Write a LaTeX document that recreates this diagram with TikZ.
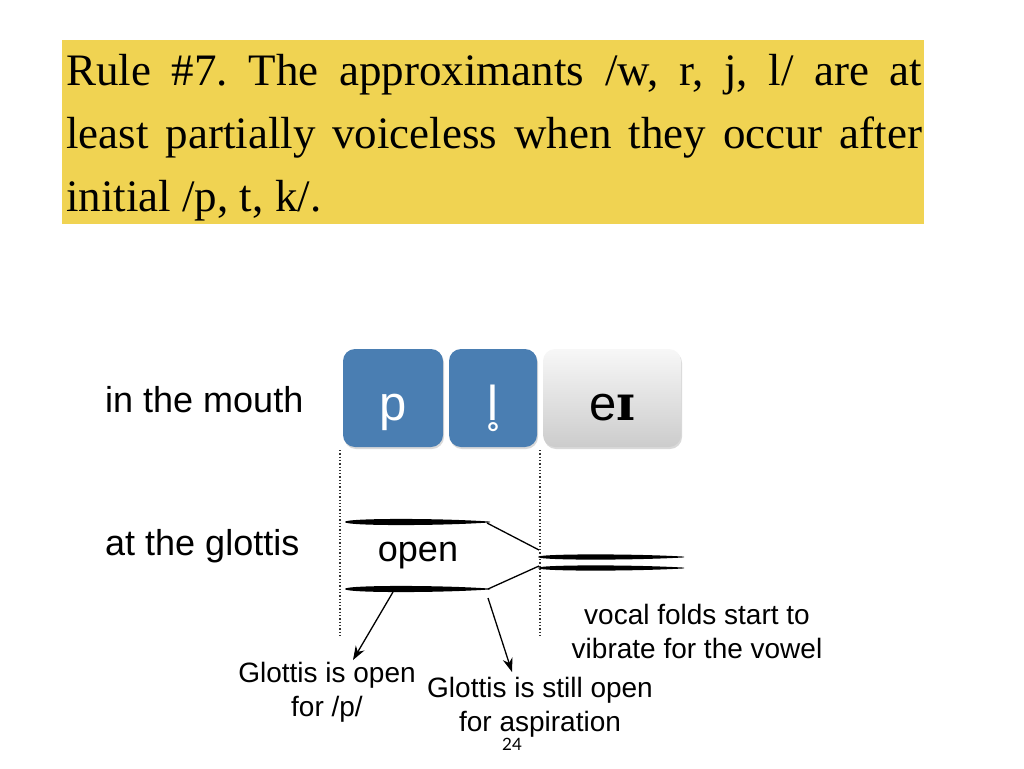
\documentclass[tikz,border=0pt]{standalone}
\usepackage{fontspec}
\setmainfont{Liberation Serif}
\setsansfont{Liberation Sans}
\newfontfamily\hel{Liberation Sans}
\newfontfamily\ipaserif{DejaVu Serif}
\newfontfamily\pagenumfont{Lato}
\usetikzlibrary{shadows,arrows.meta}
\definecolor{ruleyellow}{RGB}{240,211,82}
\definecolor{segblue}{RGB}{74,126,178}
\newcommand\brushstroke[4]{\fill (#1,#3) .. controls (#1-1,#3-#4) and (#2-50,#3-#4) .. (#2,#3-0.4) -- (#2,#3+0.4) .. controls (#2-50,#3+#4) and (#1-1,#3+#4) .. cycle;}
\tikzset{
  seg/.style={rounded corners=12pt, minimum height=98pt, inner sep=0pt, text=white, fill=segblue,
    font=\hel\fontsize{49}{49}\selectfont, text height=44pt, text depth=0pt,
    drop shadow={shadow xshift=1pt, shadow yshift=-2pt, opacity=0.3}},
  vowelseg/.style={seg, fill=none, top color=white!97!black, bottom color=white!80!black, text=black},
  bigl/.style={font=\hel\fontsize{36}{40}\selectfont, inner sep=0pt},
  smalll/.style={font=\hel\fontsize{28}{34}\selectfont, inner sep=0pt, align=center},
  conn/.style={line width=1.3pt},
  arr/.style={line width=1.3pt, -{Stealth[length=14pt,width=10pt]}},
  guide/.style={dotted, line width=1.3pt, black!80}
}
\begin{document}
\begin{tikzpicture}[x=1pt,y=-1pt]
\useasboundingbox (0,0) rectangle (1024,768);
% title
\fill[ruleyellow] (62,40) rectangle (924,224);
\node[anchor=base west, inner sep=0pt] (rule) at (66,85)
  {\parbox[t]{856pt}{\fontsize{45}{63}\selectfont\hyphenpenalty=10000\frenchspacing
   Rule \#7. The approximants /w, r, j, l/ are at\linebreak
   least partially voiceless when they occur after\linebreak
   initial /p, t, k/.}};
% segments
\node[seg, minimum width=100pt] (p) at (393,398) {p};
\node[seg, minimum width=88pt] (l) at (493,398) {l̥};
\node[vowelseg, minimum width=138pt] (ei) at (612,398) {e{\ipaserif\bfseries ɪ}};
% row labels
\node[bigl, anchor=base west] (mouth) at (105,412) {in the mouth};
\node[bigl, anchor=base west] (glot) at (105,555) {at the glottis};
% guides
\draw[guide] (340,450) -- (340,636);
\draw[guide] (540,450) -- (540,636);
% glottis strokes
\brushstroke{345}{490}{522}{4}
\brushstroke{345}{490}{589}{4}
\brushstroke{538}{684}{557}{3.4}
\brushstroke{538}{684}{568}{3.4}
\coordinate (topend) at (487,523);
\coordinate (botend) at (488,589);
\coordinate (joinA) at (539,550);
\coordinate (joinB) at (539,566);
\draw[conn] (topend) -- (joinA);
\draw[conn] (botend) -- (joinB);
\node[bigl] (open) at (418,556) {open};
% labels
\node[smalll] (vf) at (697,631) {vocal folds start to\\vibrate for the vowel};
\node[smalll] (g1) at (327,692) {Glottis is open\\for /p/};
\node[smalll] (g2) at (540,707) {Glottis is still open\\for aspiration};
\node[font=\pagenumfont\fontsize{17}{17}\selectfont, inner sep=0pt] (num) at (512,744) {24};
% arrows
\coordinate (a1s) at (393,592);
\coordinate (a1e) at (353,660);
\coordinate (a2s) at (488,598);
\coordinate (a2e) at (512,672);
\draw[arr] (a1s) -- (a1e);
\draw[arr] (a2s) -- (a2e);
\end{tikzpicture}
\end{document}
